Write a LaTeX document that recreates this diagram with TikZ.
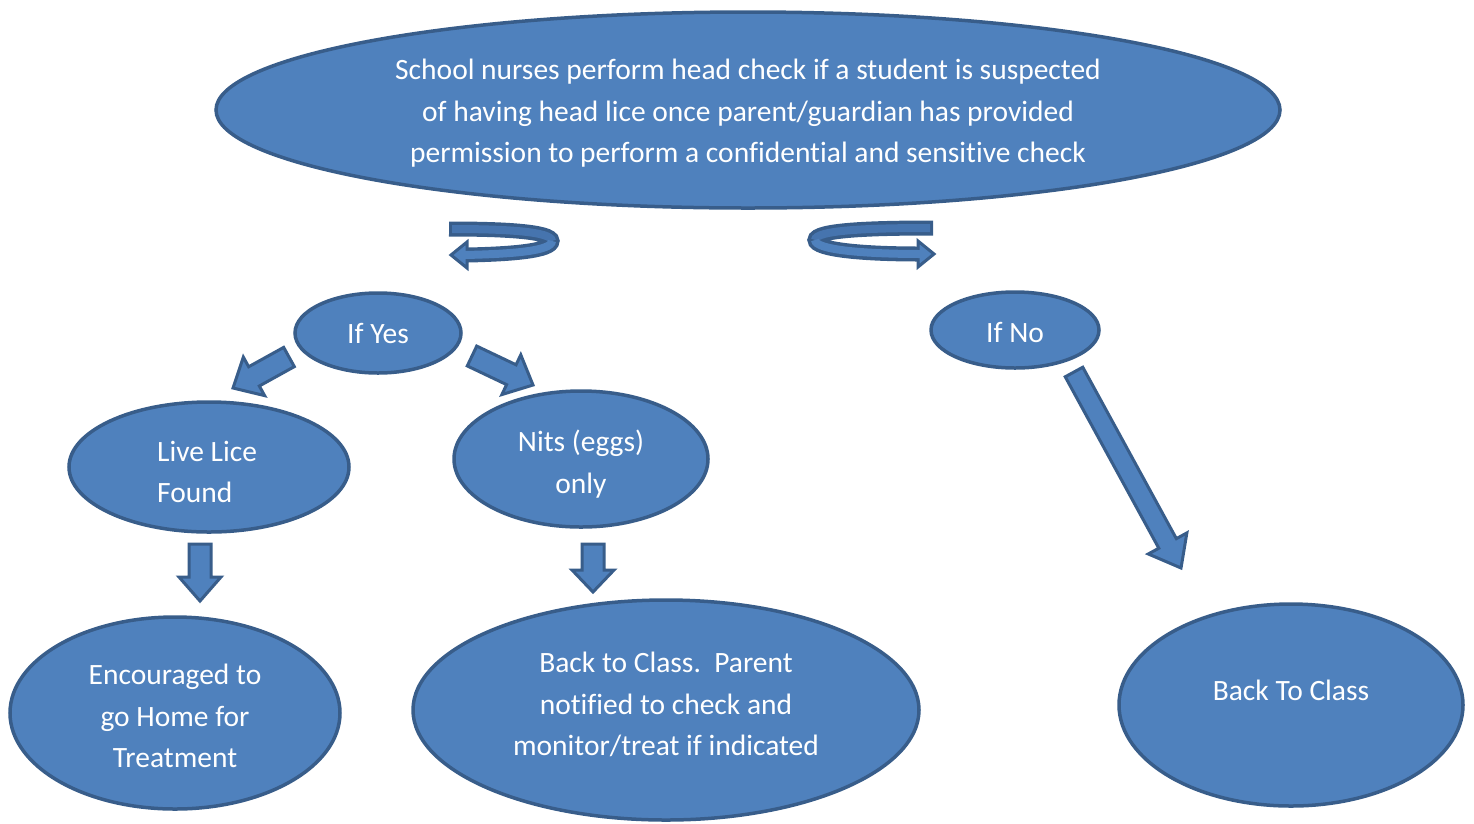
\documentclass[tikz,border=0pt]{standalone}
\usepackage{fontspec}
\setmainfont{Carlito}[Ligatures=NoCommon]
\usetikzlibrary{shapes.geometric,calc}
\definecolor{fillb}{HTML}{4F81BD}
\definecolor{lineb}{HTML}{385D8A}
\definecolor{backb}{HTML}{4674AE}
\tikzset{
 oval/.style={ellipse, draw=lineb, fill=fillb, line width=3.5pt, inner sep=0pt},
 txt/.style={text=white, align=center, font=\fontsize{29.5}{41.5}\selectfont, inner sep=0pt},
 barrow/.style={draw=lineb, fill=fillb, line width=3pt, line join=miter},
 curveout/.style={draw=lineb, line width=15pt},
 curvein/.style={line width=8pt},
}
\newcommand\blockarr[5]{%
 \coordinate (tmpP) at ($(#2)!#5!(#1)$);
 \draw[barrow] ($(#1)!#3!90:(#2)$) -- ($(tmpP)!#3!-90:(#1)$) -- ($(tmpP)!#4!-90:(#1)$) -- (#2) -- ($(tmpP)!#4!90:(#1)$) -- ($(tmpP)!#3!90:(#1)$) -- ($(#1)!#3!-90:(#2)$) -- cycle;}
\begin{document}
\begin{tikzpicture}[x=1pt,y=-1pt]
\useasboundingbox (0,0) rectangle (1474,823);
% ellipses
\node[oval, minimum width=1064pt, minimum height=196pt] (top) at (748,110) {};
\node[oval, minimum width=166pt, minimum height=80pt] (yes) at (378,333) {};
\node[oval, minimum width=168pt, minimum height=76pt] (no) at (1015,330) {};
\node[oval, minimum width=280pt, minimum height=130pt] (live) at (209,467) {};
\node[oval, minimum width=254pt, minimum height=136pt] (nits) at (581,459) {};
\node[oval, minimum width=330pt, minimum height=192pt] (enc) at (175,713) {};
\node[oval, minimum width=506pt, minimum height=220pt] (back) at (666,710) {};
\node[oval, minimum width=344pt, minimum height=202pt] (btc) at (1291,705) {};
% texts
\node[txt] (toptxt) at (748,113.5) {School nurses perform head check if a student is suspected\\of having head lice once parent/guardian has provided\\permission to perform a confidential and sensitive check};
\node[txt] (yestxt) at (378,333) {If Yes};
\node[txt] (notxt) at (1015,332) {If No};
\node[txt, align=left, anchor=west] (livetxt) at (157,472) {Live Lice\\Found};
\node[txt] (nitstxt) at (581,464) {Nits (eggs)\\only};
\node[txt] (enctxt) at (175,716) {Encouraged to\\go Home for\\Treatment};
\node[txt] (backtxt) at (666,704.5) {Back to Class.\ \ Parent\\notified to check and\\monitor/treat if indicated};
\node[txt] (btctxt) at (1291,690) {Back To Class};
% block arrows
\coordinate (a1s) at (289,357); \coordinate (a1e) at (233,388);
\coordinate (a2s) at (472,356); \coordinate (a2e) at (533,385);
\coordinate (a3s) at (1074,372); \coordinate (a3e) at (1181,568);
\coordinate (a4s) at (200,544); \coordinate (a4e) at (200,601);
\coordinate (a5s) at (593,544); \coordinate (a5e) at (593,592);
\blockarr{a1s}{a1e}{11pt}{22pt}{24pt}
\blockarr{a2s}{a2e}{11pt}{22pt}{24pt}
\blockarr{a3s}{a3e}{10pt}{22pt}{28pt}
\blockarr{a4s}{a4e}{11pt}{21pt}{24pt}
\blockarr{a5s}{a5e}{11pt}{21pt}{22pt}
% curved arrows (left)
\draw[curveout] (449,229) .. controls (500,229) and (552,231) .. (552,241) .. controls (552,251) and (512,254) .. (468,255);
\draw[barrow] (451,255) -- (467,242) -- (467,268) -- cycle;
\draw[curvein, draw=backb] (452,229) .. controls (500,229) and (552,231) .. (552,241);
\draw[curvein, draw=fillb] (552,241) .. controls (552,251) and (512,254) .. (464,255);
% curved arrows (right)
\draw[curveout] (933,228) .. controls (870,228) and (815,230) .. (815,240) .. controls (815,250) and (865,254) .. (919,254);
\draw[barrow] (934,254) -- (918,241) -- (918,267) -- cycle;
\draw[curvein, draw=backb] (930,228) .. controls (870,228) and (815,230) .. (815,240);
\draw[curvein, draw=fillb] (815,240) .. controls (815,250) and (865,254) .. (922,254);
\end{tikzpicture}
\end{document}
